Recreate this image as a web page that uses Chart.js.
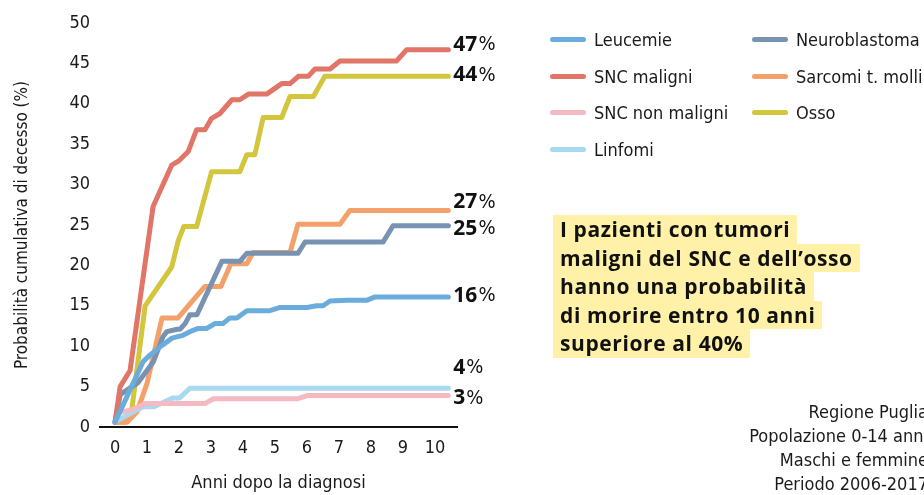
<!DOCTYPE html>
<html lang="it">
<head>
<meta charset="utf-8">
<title>Probabilità cumulativa di decesso</title>
<script src="https://cdn.jsdelivr.net/npm/chart.js@4.4.1/dist/chart.umd.min.js"></script>
<style>
  html, body { margin: 0; padding: 0; background: #fff; }
  body {
    width: 924px; height: 495px; position: relative; overflow: hidden;
    font-family: "Liberation Sans Narrow", "DejaVu Sans Condensed", sans-serif;
    color: #1a1a1a;
  }
  #chartBox { position: absolute; left: 0; top: 0; width: 924px; height: 495px; }
  .leg { position: absolute; height: 24px; line-height: 24px; font-size: 18px; white-space: nowrap; }
  .leg i { display: inline-block; width: 36px; height: 5px; border-radius: 3px; vertical-align: middle; margin: -3px 8px 0 0; }
  #callout { position: absolute; left: 553px; top: 215px; font-family: "Open Sans", sans-serif; font-weight: 700; font-size: 21px; letter-spacing: 0.6px; color: #111; }
  #callout span { display: inline-block; background: #fff2a8; padding: 0 7px 0 7px; line-height: 28.6px; height: 28.6px; white-space: nowrap; }
  #note { position: absolute; right: -4px; top: 400px; text-align: right; font-size: 18px; line-height: 24px; color: #1a1a1a; white-space: nowrap; }
</style>
</head>
<body>
<div id="chartBox"><canvas id="chart"></canvas></div>
<div id="legend"></div>
<div id="callout">
  <div><span>I pazienti con tumori</span></div>
  <div><span>maligni del SNC e dell’osso</span></div>
  <div><span>hanno una probabilità</span></div>
  <div><span>di morire entro 10 anni</span></div>
  <div><span>superiore al 40%</span></div>
</div>
<div id="note">Regione Puglia<br>Popolazione 0-14 anni<br>Maschi e femmine<br>Periodo 2006-2017</div>
<script>
// tempi (anni dopo la diagnosi) e probabilità cumulativa (%)
const leucemieT = [0, 0.47, 0.88, 1.09, 1.47, 1.78, 2.09, 2.34, 2.6, 2.87, 3.12, 3.37, 3.59, 3.81, 4.12, 4.84, 5.16, 6.0, 6.3, 6.5, 6.72, 7.25, 7.88, 8.13, 10.42];
const leucemieV = [0.6, 4.6, 8.1, 8.9, 10.1, 11.0, 11.3, 11.8, 12.2, 12.2, 12.8, 12.8, 13.5, 13.5, 14.4, 14.4, 14.8, 14.8, 15.0, 15.0, 15.6, 15.7, 15.7, 16.1, 16.1];

const sncMaligniT = [0, 0.16, 0.47, 1.19, 1.77, 1.98, 2.29, 2.55, 2.81, 3.02, 3.28, 3.65, 3.9, 4.17, 4.74, 5.21, 5.47, 5.73, 6.04, 6.25, 6.72, 7.03, 8.8, 9.12, 10.42];
const sncMaligniV = [0.6, 5.0, 7.0, 27.3, 32.4, 32.9, 34.1, 36.8, 36.8, 38.2, 38.8, 40.5, 40.5, 41.2, 41.2, 42.5, 42.5, 43.4, 43.4, 44.3, 44.3, 45.3, 45.3, 46.7, 46.7];

const sncNonMaligniT = [0, 0.12, 0.5, 0.95, 2.81, 3.07, 5.72, 6.04, 10.42];
const sncNonMaligniV = [0.6, 1.8, 2.1, 2.9, 2.9, 3.5, 3.5, 3.9, 3.9];

const linfomiT = [0, 0.4, 0.88, 1.22, 1.8, 2.02, 2.34, 10.42];
const linfomiV = [0.6, 1.5, 2.5, 2.5, 3.6, 3.6, 4.8, 4.8];

const neuroblastomaT = [0, 0.16, 0.72, 1.19, 1.5, 1.62, 1.94, 2.03, 2.19, 2.34, 2.56, 3.34, 3.9, 4.12, 5.72, 5.94, 8.38, 8.69, 10.42];
const neuroblastomaV = [0.6, 4.0, 5.5, 8.0, 11.2, 11.8, 12.1, 12.1, 12.8, 13.9, 13.9, 20.5, 20.5, 21.5, 21.5, 22.9, 22.9, 24.9, 24.9];

const sarcomiT = [0, 0.37, 0.69, 1.0, 1.47, 1.97, 2.81, 3.31, 3.62, 4.12, 4.31, 5.47, 5.72, 7.03, 7.34, 10.42];
const sarcomiV = [0.6, 0.6, 1.9, 5.4, 13.5, 13.5, 17.4, 17.4, 20.2, 20.2, 21.6, 21.6, 25.1, 25.1, 26.8, 26.8];

const ossoT = [0, 0.31, 0.52, 0.94, 1.77, 1.98, 2.15, 2.55, 3.02, 3.9, 4.12, 4.37, 4.63, 5.21, 5.47, 6.2, 6.56, 10.42];
const ossoV = [0.6, 0.6, 2.0, 15.0, 19.8, 23.1, 24.8, 24.8, 31.6, 31.6, 33.7, 33.7, 38.3, 38.3, 40.9, 40.9, 43.4, 43.4];

const seriesNames = ['Leucemie', 'SNC maligni', 'SNC non maligni', 'Linfomi', 'Neuroblastoma', 'Sarcomi t. molli', 'Osso'];
const endLabels = ['16', '47', '3', '4', '25', '27', '44'];
const xTicks = [0, 1, 2, 3, 4, 5, 6, 7, 8, 9, 10];
const yTicks = [0, 5, 10, 15, 20, 25, 30, 35, 40, 45, 50];

const colors = ['#6aaddc', '#e07568', '#f5b9c2', '#a9d8f1', '#7892b1', '#f4a06b', '#d3c53c'];
const labelShift = [-1, -5, 3, -20, 3, -8, -1];   // scostamento verticale delle etichette finali (px)

const seriesT = [leucemieT, sncMaligniT, sncNonMaligniT, linfomiT, neuroblastomaT, sarcomiT, ossoT];
const seriesV = [leucemieV, sncMaligniV, sncNonMaligniV, linfomiV, neuroblastomaV, sarcomiV, ossoV];

const narrow = '"Liberation Sans Narrow", "DejaVu Sans Condensed", sans-serif';
const ink = '#1a1a1a';

const datasets = seriesNames.map((name, i) => ({
  label: name,
  data: seriesT[i].map((t, k) => ({ x: t, y: seriesV[i][k] })),
  borderColor: colors[i],
  backgroundColor: colors[i],
  borderWidth: 5,
  borderCapStyle: 'round',
  borderJoinStyle: 'round',
  pointRadius: 0,
  tension: 0,
  fill: false
}));

// etichette percentuali a fine curva
const endLabelPlugin = {
  id: 'endLabels',
  afterDatasetsDraw(chart) {
    const ctx = chart.ctx;
    const xs = chart.scales.x, ys = chart.scales.y;
    ctx.save();
    ctx.textBaseline = 'middle';
    ctx.fillStyle = '#111';
    chart.data.datasets.forEach((ds, i) => {
      const last = ds.data[ds.data.length - 1];
      const x = xs.getPixelForValue(last.x) + 5;
      const y = ys.getPixelForValue(last.y) + labelShift[i];
      ctx.font = '700 21px "Open Sans", sans-serif';
      ctx.fillText(endLabels[i], x, y);
      const w = ctx.measureText(endLabels[i]).width;
      ctx.font = '20px ' + narrow;
      ctx.fillText('%', x + w + 1, y);
    });
    ctx.restore();
  }
};

const chart = new Chart(document.getElementById('chart'), {
  type: 'line',
  data: { datasets },
  plugins: [endLabelPlugin],
  options: {
    responsive: true,
    maintainAspectRatio: false,
    animation: false,
    layout: { padding: { top: 23, right: 467, bottom: 0, left: 0 } },
    plugins: { legend: { display: false }, tooltip: { enabled: false } },
    scales: {
      x: {
        type: 'linear',
        min: -0.47,
        max: 10.69,
        afterBuildTicks: s => { s.ticks = xTicks.map(v => ({ value: v })); },
        afterFit: s => { s.height = 68; },
        grid: { display: false, drawTicks: false },
        border: { display: true, color: '#111', width: 2 },
        ticks: { font: { family: narrow, size: 18 }, color: ink, padding: 11, maxRotation: 0, autoSkip: false },
        title: { display: true, text: 'Anni dopo la diagnosi', font: { family: narrow, size: 18 }, color: ink, padding: { top: 0, bottom: 1 } }
      },
      y: {
        min: 0,
        max: 50,
        afterBuildTicks: s => { s.ticks = yTicks.map(v => ({ value: v })); },
        afterFit: s => { s.width = 100; },
        grid: { display: false, drawTicks: false },
        border: { display: false },
        ticks: { font: { family: narrow, size: 18 }, color: ink, padding: 10 },
        title: { display: true, text: 'Probabilità cumulativa di decesso (%)', font: { family: narrow, size: 17 }, color: ink, padding: { top: 12, bottom: 0 } }
      }
    }
  }
});

// legenda su due colonne, costruita dai dataset
const legendBox = document.getElementById('legend');
chart.data.datasets.forEach((ds, i) => {
  const col = i < 4 ? 0 : 1;
  const row = i < 4 ? i : i - 4;
  const item = document.createElement('div');
  item.className = 'leg';
  item.style.left = (col ? 752 : 550) + 'px';
  item.style.top = (40 + row * 36.7 - 12) + 'px';
  item.innerHTML = '<i style="background:' + ds.borderColor + '"></i>' + ds.label;
  legendBox.appendChild(item);
});
</script>
</body>
</html>
